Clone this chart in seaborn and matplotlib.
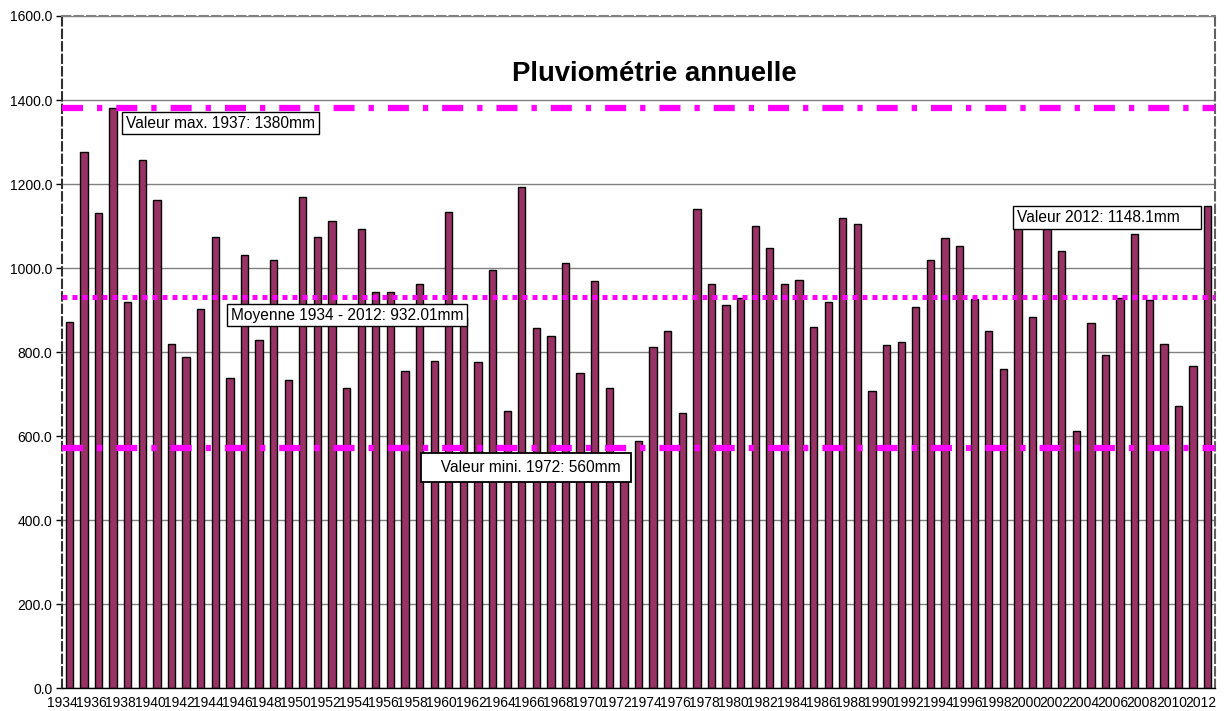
import matplotlib
matplotlib.use("Agg")
import matplotlib.pyplot as plt
import matplotlib.transforms as mtransforms
import seaborn as sns
import numpy as np

# data
years = [str(y) for y in range(1934, 2013)]
rainfall = [872, 1277, 1130, 1380, 918, 1257, 1163, 819, 787, 902,
            1075, 737, 1032, 829, 1018, 733, 1168, 1075, 1113, 714,
            1093, 944, 942, 755, 963, 779, 1133, 880, 777, 996,
            660, 1193, 856, 839, 1011, 751, 968, 715, 560, 588,
            813, 851, 654, 1141, 961, 911, 928, 1101, 1048, 963,
            971, 860, 920, 1120, 1104, 708, 817, 825, 907, 1018,
            1071, 1052, 927, 849, 759, 1110, 884, 1105, 1041, 613,
            869, 793, 929, 1081, 925, 819, 671, 767, 1148.1]
max_line = 1380
mean_line = 932.01
min_line = 572
y_ticks = [0, 200, 400, 600, 800, 1000, 1200, 1400, 1600]

sns.set_style("white")
plt.rcParams["font.family"] = ["Liberation Sans", "DejaVu Sans"]
plt.rcParams["text.color"] = "black"
plt.rcParams["xtick.color"] = "black"
plt.rcParams["ytick.color"] = "black"

fig = plt.figure(figsize=(12.24, 7.11), dpi=100)
ax = fig.add_axes([0.0507, 0.0323, 0.9419, 0.9452])

sns.barplot(x=years, y=rainfall, color="#993366", saturation=1,
            edgecolor="black", linewidth=1, width=0.5, ax=ax, zorder=2)

ax.set_xlim(-0.5, len(years) - 0.5)
ax.set_ylim(0, 1600)
ax.set_yticks(y_ticks)
ax.set_yticklabels([f"{v:.1f}" for v in y_ticks], fontsize=10)
ax.yaxis.grid(True, color="#808080", linewidth=1, zorder=0)
ax.set_axisbelow(True)

ax.set_xticks(range(0, len(years), 2))
ax.set_xticklabels(years[::2], fontsize=10)
ax.set_xticks(np.arange(-0.5, len(years), 1), minor=True)
ax.tick_params(axis="x", which="major", length=0, pad=6)
ax.tick_params(axis="x", which="minor", length=5, color="black", width=1)
ax.tick_params(axis="y", length=4, color="black", width=1, left=True, pad=3)
ax.set_xlabel("")
ax.set_ylabel("")
shift = mtransforms.ScaledTranslation(-7 / 100, 0, fig.dpi_scale_trans)
for lab in ax.get_xticklabels():
    lab.set_transform(lab.get_transform() + shift)

# reference lines
for val, dash, lw in [(max_line, (3.36, 2.24, 0.85, 2.24), 4.5),
                      (min_line, (3.36, 2.24, 0.85, 2.24), 4.5),
                      (mean_line, (1, 1), 3.6)]:
    ln = ax.axhline(val, color="#FF00FF", linewidth=lw, zorder=3)
    ln.set_dash_capstyle("butt")
    ln.set_dashes(dash)

box = dict(boxstyle="square,pad=0.25", facecolor="white",
           edgecolor="black", linewidth=1)
ax.text(3.9, 1345, "Valeur max. 1937: 1380mm", fontsize=11.2,
        va="center", ha="left", bbox=box, zorder=5)
ax.text(11.05, 888, "Moyenne 1934 - 2012: 932.01mm", fontsize=11.2,
        va="center", ha="left", bbox=box, zorder=5)
ax.text(24.55, 525, "   Valeur mini. 1972: 560mm ", fontsize=11.2,
        va="center", ha="left", zorder=5,
        bbox=dict(boxstyle="square,pad=0.45", facecolor="white",
                  edgecolor="black", linewidth=1.3))
ax.text(64.95, 1120, "Valeur 2012: 1148.1mm    ", fontsize=11.2,
        va="center", ha="left", bbox=box, zorder=5)

ax.text(0.514, 0.914, "Pluviométrie annuelle", transform=ax.transAxes,
        fontsize=19.8, fontweight="bold", ha="center", va="center")

for side in ["left", "top", "right"]:
    ax.spines[side].set_linestyle((0, (4, 2)))
ax.spines["left"].set_color("#303030")
ax.spines["left"].set_linewidth(1.5)
ax.spines["top"].set_color("#808080")
ax.spines["top"].set_linewidth(1.5)
ax.spines["right"].set_color("#606060")
ax.spines["right"].set_linewidth(1.5)
ax.spines["bottom"].set_color("black")
ax.spines["bottom"].set_linewidth(1)

plt.savefig("out.png", dpi=100)
plt.close()
